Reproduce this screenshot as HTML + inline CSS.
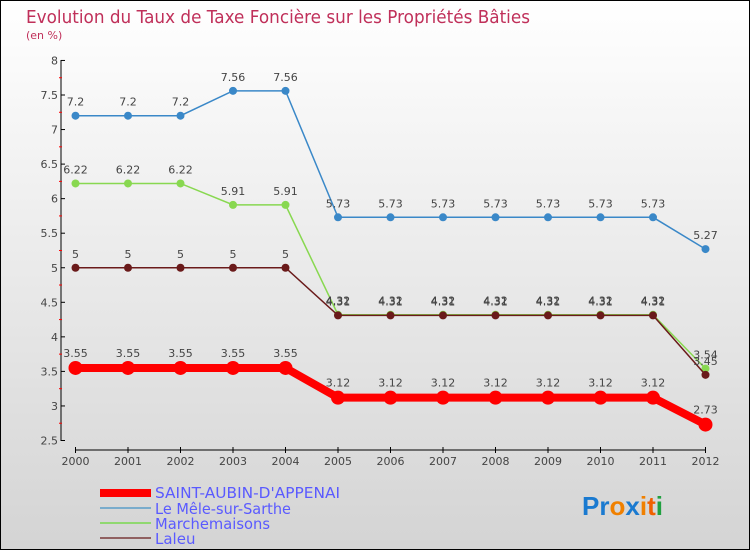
<!DOCTYPE html>
<html><head><meta charset="utf-8"><style>
body{margin:0}
#c{width:748px;height:548px;border:1px solid #000;background:linear-gradient(#ffffff,#d4d4d4);position:relative;font-family:"DejaVu Sans","Liberation Sans",sans-serif;overflow:hidden}
</style></head><body>
<div id="c">
<svg id="s" width="748" height="548">
<text x="25" y="22" font-size="18" fill="#c0305a" textLength="504" lengthAdjust="spacingAndGlyphs">Evolution du Taux de Taxe Foncière sur les Propriétés Bâties</text>
<text x="25" y="38" font-size="11" fill="#c0305a">(en %)</text>
<g id="axes"></g><g id="series"></g>
<g>
<rect x="99" y="488" width="51" height="8" fill="#f00"/>
<text x="154" y="497" font-size="15" fill="#5a5aff" textLength="185" lengthAdjust="spacingAndGlyphs">SAINT-AUBIN-D'APPENAI</text>
<rect x="99" y="506" width="51" height="2" fill="#7aaccc"/>
<text x="154" y="513" font-size="15" fill="#5a5aff" textLength="136" lengthAdjust="spacingAndGlyphs">Le Mêle-sur-Sarthe</text>
<rect x="99" y="521" width="51" height="2" fill="#90d870"/>
<text x="154" y="528" font-size="15" fill="#5a5aff" textLength="115" lengthAdjust="spacingAndGlyphs">Marchemaisons</text>
<rect x="99" y="536" width="51" height="2" fill="#906060"/>
<text x="154" y="543" font-size="15" fill="#5a5aff">Laleu</text>
</g>
<text x="581" y="514" font-size="26" font-weight="bold" font-family="Liberation Sans,sans-serif"><tspan fill="#1a7ad0">Pr</tspan><tspan fill="#f08000">o</tspan><tspan fill="#1a7ad0">x</tspan><tspan fill="#f08000">i</tspan><tspan fill="#f06000">t</tspan><tspan fill="#20a040">i</tspan></text>
</svg></div>
<script>
const years=[2000,2001,2002,2003,2004,2005,2006,2007,2008,2009,2010,2011,2012];
const yTicks=[2.5,3,3.5,4,4.5,5,5.5,6,6.5,7,7.5,8];
const saint=[3.55,3.55,3.55,3.55,3.55,3.12,3.12,3.12,3.12,3.12,3.12,3.12,2.73];
const mele=[7.2,7.2,7.2,7.56,7.56,5.73,5.73,5.73,5.73,5.73,5.73,5.73,5.27];
const march=[6.22,6.22,6.22,5.91,5.91,4.32,4.32,4.32,4.32,4.32,4.32,4.32,3.54];
const laleu=[5,5,5,5,5,4.31,4.31,4.31,4.31,4.31,4.31,4.31,3.45];
const NS='http://www.w3.org/2000/svg';
const X=i=>74.5+i*52.5, Y=v=>439.5-(v-2.5)*69.1;
function mk(t,a,p){const e=document.createElementNS(NS,t);for(const k in a)e.setAttribute(k,a[k]);p.appendChild(e);return e;}
const ax=document.getElementById('axes');
let e=mk('line',{x1:60,y1:59,x2:60,y2:440,stroke:'#000'},ax);


e=mk('line',{x1:74,y1:449,x2:705,y2:449,stroke:'#000'},ax);


yTicks.forEach((v,i)=>{
 mk('line',{x1:60,y1:Y(v),x2:64,y2:Y(v),stroke:'#000'},ax);
 if(i<yTicks.length-1)mk('line',{x1:58,y1:Y(v+0.25),x2:61,y2:Y(v+0.25),stroke:'#f00'},ax);
 const t=mk('text',{x:57,y:Y(v)+4,'font-size':11,fill:'#444','text-anchor':'end'},ax);
 t.textContent=String(v);
 
 
});
years.forEach((y,i)=>{
 mk('line',{x1:X(i),y1:446,x2:X(i),y2:452,stroke:'#000'},ax);
 const t=mk('text',{x:X(i),y:464,'font-size':11,fill:'#444','text-anchor':'middle'},ax);
 t.textContent=y;
 
 
});
const sg=document.getElementById('series');
function series(vals,color,w,r,name,dy){
 const g=mk('g',{},sg);
 
 
 const p=mk('polyline',{points:vals.map((v,i)=>X(i)+','+Y(v)).join(' '),fill:'none',stroke:color,'stroke-width':w},g);
 
 
 vals.forEach((v,i)=>{
  const c=mk('circle',{cx:X(i),cy:Y(v),r:r,fill:color},g);
  
  
  const t=mk('text',{x:X(i),y:Y(v)-dy,'font-size':11,fill:'#444','text-anchor':'middle'},g);
  t.textContent=String(v);
  
  
 });
}
series(mele,'#3a88c8',1.5,4,'mele',10);
series(march,'#88d850',1.5,4,'marchemaisons',10);
series(laleu,'#6a1a1a',1.5,4,'laleu',10);
series(saint,'#f00',8,7,'saint-aubin',11);
</script>
</body></html>
